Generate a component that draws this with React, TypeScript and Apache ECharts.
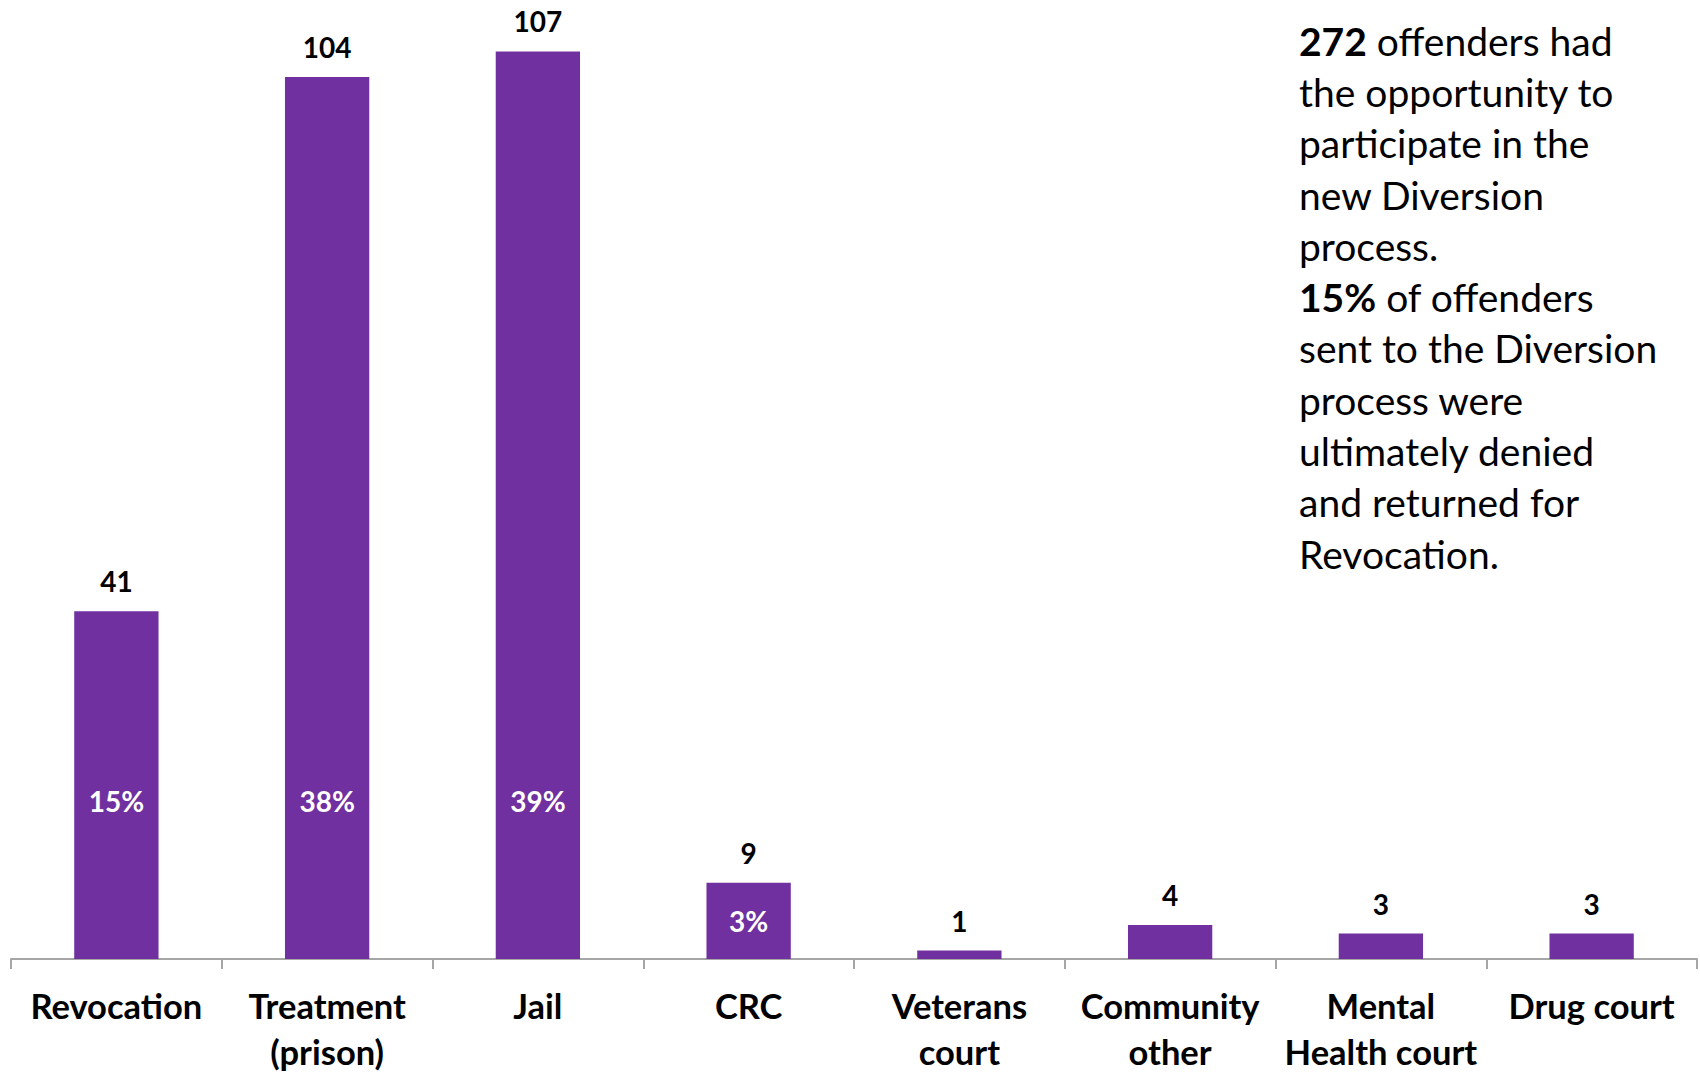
import React, { useEffect, useRef } from 'react';
import * as echarts from 'echarts';

const categories = [
  'Revocation',
  'Treatment\n(prison)',
  'Jail',
  'CRC',
  'Veterans\ncourt',
  'Community\nother',
  'Mental\nHealth court',
  'Drug court',
];
const counts = [41, 104, 107, 9, 1, 4, 3, 3];
const shareLabels = ['15%', '38%', '39%', '3%', '', '', '', ''];
const noteLines = [
  '{b|272} offenders had',
  'the opportunity to',
  'participate in the',
  'new Diversion',
  'process.',
  '{b|15%} of offenders',
  'sent to the Diversion',
  'process were',
  'ultimately denied',
  'and returned for',
  'Revocation.',
];

const FONT = 'Lato, "Open Sans", sans-serif';
const PURPLE = '#7030A0';
const AXIS_GREY = '#A6A6A6';

export default function App() {
  const ref = useRef<HTMLDivElement>(null);
  useEffect(() => {
    const chart = echarts.init(ref.current!, null, { renderer: 'svg' });
    chart.setOption({
      animation: false,
      grid: { left: 11, right: 3, top: 26, bottom: 111.2, containLabel: false },
      xAxis: {
        type: 'category',
        data: categories,
        boundaryGap: true,
        axisLine: { show: true, lineStyle: { color: AXIS_GREY, width: 2 } },
        axisTick: { show: true, length: 10, alignWithLabel: false, lineStyle: { color: AXIS_GREY, width: 2 } },
        axisLabel: {
          interval: 0,
          color: '#000',
          fontFamily: FONT,
          fontWeight: 'bold',
          fontSize: 34.5,
          lineHeight: 46,
          margin: 23,
        },
      },
      yAxis: {
        type: 'value',
        min: 0,
        max: 110,
        show: false,
        splitLine: { show: false },
      },
      series: [
        {
          type: 'bar',
          barWidth: '40%',
          itemStyle: { color: PURPLE },
          silent: true,
          data: counts.map((v) => ({
            value: v,
            label: v > 20 ? { position: 'insideBottom', distance: 144 } : { position: 'inside' },
          })),
          label: {
            show: true,
            formatter: (p: any) => shareLabels[p.dataIndex],
            color: '#fff',
            fontFamily: FONT,
            fontWeight: 'bold',
            fontSize: 28,
            lineHeight: 28,
          },
        },
        {
          type: 'bar',
          barWidth: '40%',
          barGap: '-100%',
          silent: true,
          itemStyle: { color: 'rgba(0,0,0,0)' },
          data: counts,
          label: {
            show: true,
            position: 'top',
            distance: 16,
            color: '#000',
            fontFamily: FONT,
            fontWeight: 'bold',
            fontSize: 28,
            lineHeight: 28,
          },
        },
      ],
      graphic: [
        {
          type: 'text',
          left: 1299,
          top: 15,
          silent: true,
          style: {
            text: noteLines.join('\n'),
            fill: '#000',
            fontFamily: FONT,
            fontSize: 39,
            lineHeight: 51.3,
            rich: {
              b: { fontFamily: FONT, fontWeight: 'bold', fontSize: 39, lineHeight: 51.3, fill: '#000' },
            },
          },
        },
      ],
    });
    return () => chart.dispose();
  }, []);
  return (
    <div
      ref={ref}
      style={{ position: 'fixed', left: 0, top: 0, width: 1700, height: 1074, background: '#fff' }}
    />
  );
}
